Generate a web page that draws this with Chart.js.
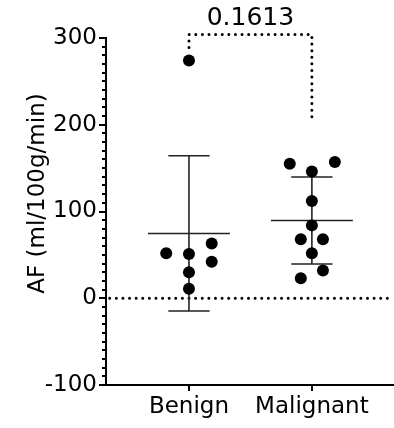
<!DOCTYPE html>
<html lang="en">
<head>
  <meta charset="UTF-8">
  <title>AF Benign vs Malignant</title>
  <script src="https://cdn.jsdelivr.net/npm/chart.js"></script>
  <style>
    body {
      margin: 0;
      background: #fff;
    }
    #wrap {
      width: 394px;
      height: 428px;
    }
  </style>
</head>
<body>
  <div id="wrap"><canvas id="myChart" width="394" height="428"></canvas></div>

  <script>
    // data
    const categories = ['Benign', 'Malignant'];
    const benignValues = [274, 63, 52, 51, 42, 30, 11];
    const malignantValues = [157, 155, 146, 112, 84, 68, 68, 52, 32, 23];
    const pValue = '0.1613';
    const yTicks = [-100, 0, 100, 200, 300];

    // horizontal spread of the dots, in category units (layout only)
    const benignJitter = [0, 0.185, -0.185, 0, 0.185, 0, 0];
    const malignantJitter = [0.187, -0.18, 0, 0, 0, -0.09, 0.09, 0, 0.09, -0.09];

    // significance bracket: left foot, top, right foot (y values)
    const bracketLevels = [289, 304, 206];

    const FONT = 'DejaVu Sans';
    const xMin = 0.325, xMax = 2.66;

    function mean(a) {
      return a.reduce((s, v) => s + v, 0) / a.length;
    }
    function sd(a) {
      const m = mean(a);
      return Math.sqrt(a.reduce((s, v) => s + (v - m) * (v - m), 0) / (a.length - 1));
    }

    function dots(values, jitter, pos) {
      return {
        type: 'scatter',
        data: values.map((v, i) => ({ x: pos + jitter[i], y: v })),
        backgroundColor: '#000',
        borderWidth: 0,
        pointRadius: 6,
        pointHoverRadius: 6
      };
    }

    function seg(points, color, width, dash) {
      return {
        type: 'line',
        data: points,
        borderColor: color,
        borderWidth: width,
        borderDash: dash || [],
        borderCapStyle: dash ? 'round' : 'butt',
        pointRadius: 0,
        fill: false,
        tension: 0,
        clip: false
      };
    }

    // mean line + SD whiskers for one group
    function summary(values, pos) {
      const m = mean(values), s = sd(values);
      const c = '#222';
      return [
        seg([{ x: pos - 0.333, y: m }, { x: pos + 0.333, y: m }], c, 1.6),
        seg([{ x: pos, y: m - s }, { x: pos, y: m + s }], c, 1.6),
        seg([{ x: pos - 0.168, y: m + s }, { x: pos + 0.168, y: m + s }], c, 1.6),
        seg([{ x: pos - 0.168, y: m - s }, { x: pos + 0.168, y: m - s }], c, 1.6)
      ];
    }

    const dotDash = [0.01, 6.6];

    const datasets = [
      dots(benignValues, benignJitter, 1),
      dots(malignantValues, malignantJitter, 2),
      ...summary(benignValues, 1),
      ...summary(malignantValues, 2),
      seg([{ x: xMin + 0.03, y: 0 }, { x: xMax, y: 0 }], '#000', 3, dotDash),
      seg([
        { x: 1, y: bracketLevels[0] },
        { x: 1, y: bracketLevels[1] },
        { x: 2, y: bracketLevels[1] },
        { x: 2, y: bracketLevels[2] }
      ], '#000', 3, dotDash)
    ];

    // minor ticks, y title and p value text
    const extras = {
      id: 'extras',
      afterDraw(chart) {
        const ctx = chart.ctx;
        const y = chart.scales.y, x = chart.scales.x;
        const left = chart.chartArea.left;
        ctx.save();
        ctx.strokeStyle = '#000';
        ctx.lineWidth = 2;
        for (let v = -100; v <= 300; v += 10) {
          if (v % 100 === 0) continue;
          const py = Math.round(y.getPixelForValue(v));
          ctx.beginPath();
          ctx.moveTo(left - 4, py);
          ctx.lineTo(left, py);
          ctx.stroke();
        }

        ctx.fillStyle = '#000';
        ctx.font = '23px "' + FONT + '"';
        ctx.translate(43.5, 193.5);
        ctx.rotate(-Math.PI / 2);
        ctx.textAlign = 'center';
        ctx.textBaseline = 'alphabetic';
        ctx.fillText('AF (ml/100g/min)', 0, 0);
        ctx.restore();

        ctx.save();
        ctx.fillStyle = '#000';
        ctx.font = '25px "' + FONT + '"';
        ctx.textAlign = 'center';
        ctx.textBaseline = 'alphabetic';
        const px = (x.getPixelForValue(1) + x.getPixelForValue(2)) / 2;
        ctx.fillText(pValue, px, y.getPixelForValue(bracketLevels[1]) - 9.5);
        ctx.restore();
      }
    };

    new Chart(document.getElementById('myChart'), {
      type: 'scatter',
      data: { datasets },
      options: {
        responsive: false,
        animation: false,
        events: [],
        layout: { autoPadding: false, padding: { top: 38, right: 1, bottom: 0, left: 0 } },
        plugins: {
          legend: { display: false },
          tooltip: { enabled: false }
        },
        scales: {
          x: {
            type: 'linear',
            min: xMin,
            max: xMax,
            afterBuildTicks(scale) {
              scale.ticks = categories.map((c, i) => ({ value: i + 1 }));
            },
            afterFit(scale) {
              scale.height = 43;
              scale.paddingLeft = 0;
              scale.paddingRight = 0;
            },
            ticks: {
              color: '#000',
              font: { family: FONT, size: 23 },
              padding: 2,
              maxRotation: 0,
              autoSkip: false,
              callback: v => categories[v - 1]
            },
            grid: {
              drawOnChartArea: false,
              color: '#000',
              lineWidth: 2,
              tickLength: 6
            },
            border: { color: '#000', width: 2 }
          },
          y: {
            min: -100,
            max: 300,
            afterBuildTicks(scale) {
              scale.ticks = yTicks.map(v => ({ value: v }));
            },
            afterFit(scale) {
              scale.width = 106;
            },
            ticks: {
              color: '#000',
              font: { family: FONT, size: 23 },
              padding: 2
            },
            grid: {
              drawOnChartArea: false,
              color: '#000',
              lineWidth: 2,
              tickLength: 7
            },
            border: { color: '#000', width: 2 }
          }
        }
      },
      plugins: [extras]
    });
  </script>
</body>
</html>
